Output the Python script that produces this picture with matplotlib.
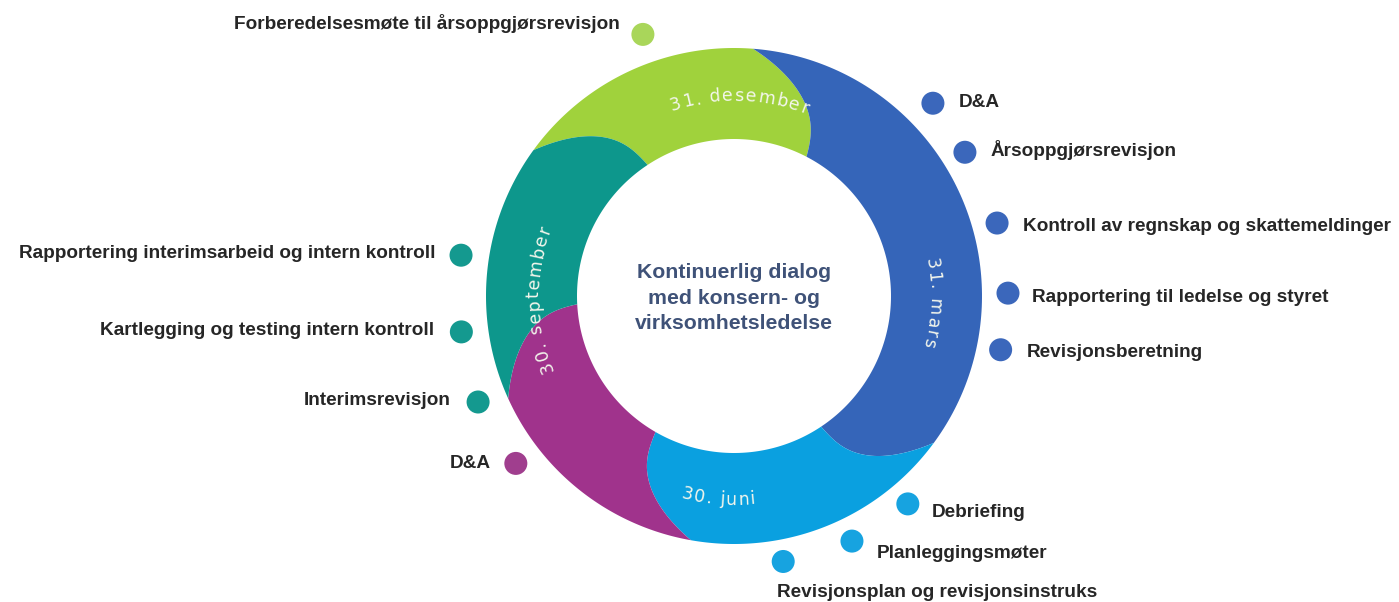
import numpy as np
import matplotlib.pyplot as plt
from matplotlib.patches import Polygon, Circle
from matplotlib.textpath import TextToPath
from matplotlib.font_manager import FontProperties

# Ringen: fem fargefelt, grenser gitt som vinkel (grader) paa ytterkant / innerkant
seg_colors = ['#a0d23c', '#3565b9', '#0aa0e0', '#a0338c', '#0d978c']
bound_outer = [85.6, -36.3, -100.0, -155.6, -216.0]
bound_inner = [62.5, -56.3, -120.0, -177.0, -236.6]

# Datoer langs ringen
date_labels = ['31. desember', '31. mars', '30. juni', '30. september']
date_angles = [88.5, -2.0, -94.5, 181.0]
date_clockwise = [True, True, False, True]

# Aktiviteter (prikker rundt ringen)
act_labels = ['Forberedelsesmøte til årsoppgjørsrevisjon',
              'D&A',
              'Årsoppgjørsrevisjon',
              'Kontroll av regnskap og skattemeldinger',
              'Rapportering til ledelse og styret',
              'Revisjonsberetning',
              'Debriefing',
              'Planleggingsmøter',
              'Revisjonsplan og revisjonsinstruks',
              'D&A',
              'Interimsrevisjon',
              'Kartlegging og testing intern kontroll',
              'Rapportering interimsarbeid og intern kontroll']
act_angle = [109.2, 44.1, 31.9, 15.5, 0.6, -11.4, -50.1, -64.3, -79.5,
             217.5, 202.5, 187.5, 171.5]
act_dist = [277, 277, 272, 273, 274, 272, 271, 272, 270, 275, 277, 275, 276]
act_seg = [0, 1, 1, 1, 1, 1, 2, 2, 2, 3, 4, 4, 4]

center_text = 'Kontinuerlig dialog\nmed konsern- og\nvirksomhetsledelse'

# layout (piksler, y nedover)
cx, cy = 734, 296
r_out, r_in = 248, 157
dot_colors = ['#a9d65a', '#3b67bb', '#17a3e0', '#a03e8e', '#14998f']
# tekstplassering i forhold til prikken: (dx, dy, ha)
act_offset = [(-23, -11, 'right'), (26, -1, 'left'), (26, -2, 'left'),
              (26, 3, 'left'), (24, 4, 'left'), (26, 3, 'left'),
              (24, 9, 'left'), (25, 12, 'left'), (-6, 31, 'left'),
              (-25, 0, 'right'), (-27, -2, 'right'), (-27, -1, 'right'),
              (-26, -2, 'right')]


def pt(r, a):
    a = np.radians(a)
    return cx + r * np.cos(a), cy - r * np.sin(a)


def boundary(a_out, a_in, n=50, bulge=5.0):
    t = np.linspace(0, 1, n)
    rad = r_out - t * (r_out - r_in)
    ang = a_out + t * (a_in - a_out) - bulge * np.sin(np.pi * t)
    return np.column_stack(pt(rad, ang))


fig = plt.figure(figsize=(13.99, 6.02), dpi=100)
ax = fig.add_axes([0, 0, 1, 1])
ax.set_xlim(0, 1399)
ax.set_ylim(602, 0)
ax.axis('off')

n = len(seg_colors)
for i in range(n):
    a0o = bound_outer[i - 1] + (360 if i == 0 else 0)
    a0i = bound_inner[i - 1] + (360 if i == 0 else 0)
    a1o, a1i = bound_outer[i], bound_inner[i]
    start = boundary(a0o, a0i)
    inner = np.column_stack(pt(r_in, np.linspace(a0i, a1i, 120)))
    end = boundary(a1o, a1i)[::-1]
    outer = np.column_stack(pt(r_out, np.linspace(a1o, a0o, 120)))
    poly = np.vstack([start, inner, end, outer])
    ax.add_patch(Polygon(poly, closed=True, facecolor=seg_colors[i],
                         edgecolor='none'))

# datoer langs ringen, tegn for tegn
ttp = TextToPath()
prop = FontProperties(family='DejaVu Sans', size=12.5)


def width_px(s):
    w, h, d = ttp.get_text_width_height_descent(s, prop, ismath=False)
    return w * 100 / 72


def arc_text(s, a_c, r, cw, track=1.5):
    total = width_px(s) + track * (len(s) - 1)
    for k, ch in enumerate(s):
        pos = width_px(s[:k]) + track * k + width_px(ch) / 2 - total / 2
        if cw:
            a = a_c - np.degrees(pos / r)
            rot = a - 90
        else:
            a = a_c + np.degrees(pos / r)
            rot = a + 90
        x, y = pt(r, a)
        ax.text(x, y, ch, fontproperties=prop, color='#f3f6ec',
                rotation=rot, rotation_mode='anchor',
                ha='center', va='baseline')


for lab, a, cw in zip(date_labels, date_angles, date_clockwise):
    arc_text(lab, a, 195 if cw else 209, cw)

ax.text(cx, 298, center_text, ha='center', va='center', fontsize=15.3,
        fontweight='bold', family='Liberation Sans', color='#3f5278',
        linespacing=1.42)

for lab, a, d, s, off in zip(act_labels, act_angle, act_dist, act_seg,
                             act_offset):
    x, y = pt(d, a)
    ax.add_patch(Circle((x, y), 11.5, facecolor=dot_colors[s],
                        edgecolor='none'))
    ax.text(x + off[0], y + off[1], lab, ha=off[2], va='center',
            fontsize=13.7, fontweight='bold', family='Liberation Sans',
            color='#262626')

fig.savefig('out.png', dpi=100, facecolor='white')
